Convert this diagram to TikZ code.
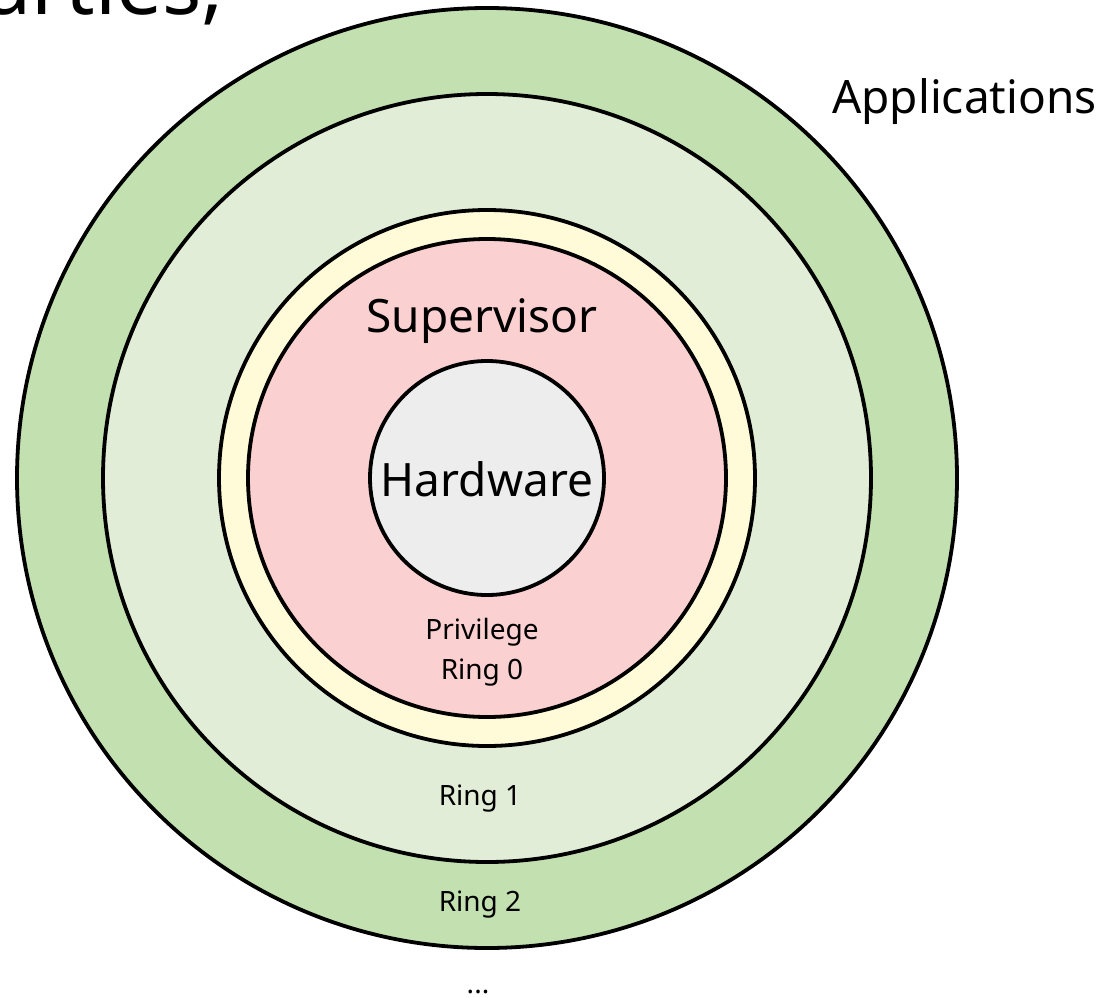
\documentclass[tikz,border=0pt]{standalone}
\usepackage{fontspec}
\setmainfont{Noto Sans}
\definecolor{gOut}{HTML}{C3E0B0}
\definecolor{gIn}{HTML}{E1EDD6}
\definecolor{yRing}{HTML}{FFFBD8}
\definecolor{rRing}{HTML}{FBD0D1}
\definecolor{hw}{HTML}{EDEDED}
\begin{document}
\begin{tikzpicture}[x=1pt,y=-1pt,
  ring/.style={draw=black,line width=3.8pt,circle,inner sep=0pt},
  lbl/.style={inner sep=0pt,anchor=base,font=\fontsize{28}{34}\selectfont},
  big/.style={inner sep=0pt,anchor=base,font=\fontsize{46}{52}\selectfont}]
\useasboundingbox (0,0) rectangle (1108,998);
\begin{scope}
\clip (0,0) rectangle (1108,998);
\node[inner sep=0pt,anchor=base east,font=\fontsize{82}{90}\selectfont] (top) at (224,15) {parties,};
\end{scope}
\coordinate (c) at (487,478);
\node[ring,fill=gOut,minimum size=940pt] (apps) at (c) {};
\node[ring,fill=gIn,minimum size=768pt] (r1) at (c) {};
\node[ring,fill=yRing,minimum size=536pt] (r0o) at (c) {};
\node[ring,fill=rRing,minimum size=478pt] (sup) at (c) {};
\node[ring,fill=hw,minimum size=234pt] (hwc) at (c) {};
\node[big] (hwl) at (487,496) {Hardware};
\node[big] (supl) at (482,332) {Supervisor};
\node[big,anchor=base west] (appl) at (832,113) {Applications};
\node[lbl] (priv) at (482,639) {Privilege};
\node[lbl] (ring0) at (482,679) {Ring 0};
\node[lbl] (ring1) at (480,805) {Ring 1};
\node[lbl] (ring2) at (480,911) {Ring 2};
\node[lbl] (dots) at (478,993) {...};
\end{tikzpicture}
\end{document}
